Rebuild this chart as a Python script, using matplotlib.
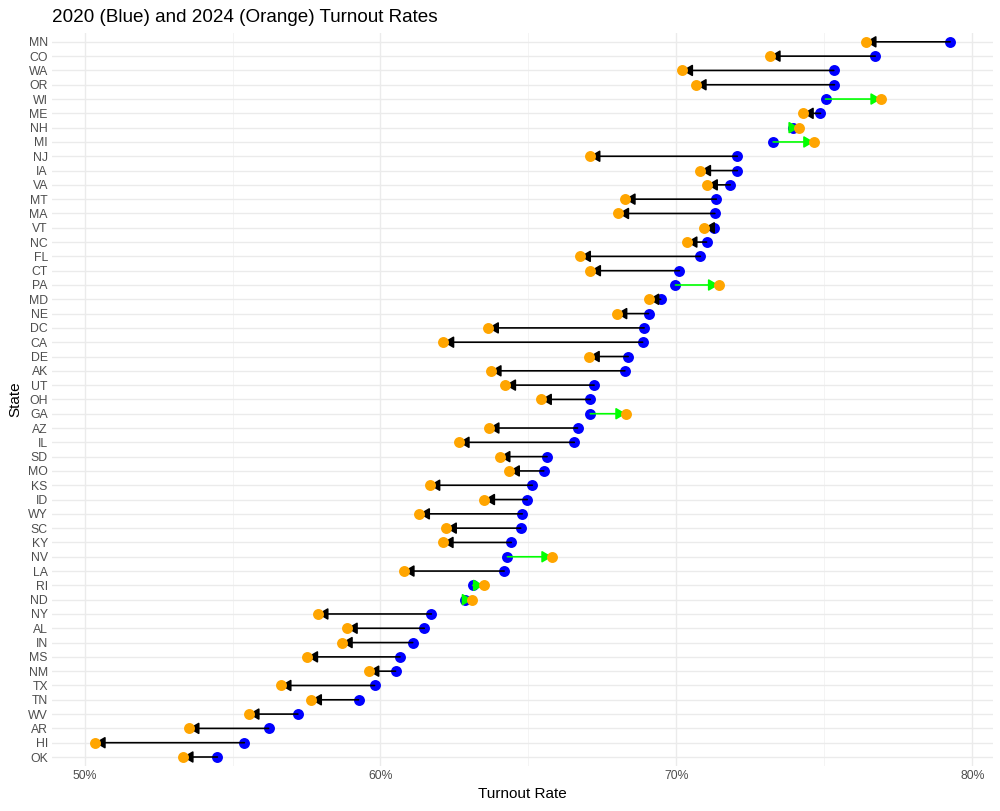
import matplotlib.pyplot as plt
from matplotlib.ticker import FuncFormatter, MultipleLocator

plt.rcParams['font.family'] = ['Liberation Sans', 'DejaVu Sans']

# states, top to bottom
states = ['MN', 'CO', 'WA', 'OR', 'WI', 'ME', 'NH', 'MI', 'NJ', 'IA', 'VA', 'MT', 'MA',
          'VT', 'NC', 'FL', 'CT', 'PA', 'MD', 'NE', 'DC', 'CA', 'DE', 'AK', 'UT', 'OH',
          'GA', 'AZ', 'IL', 'SD', 'MO', 'KS', 'ID', 'WY', 'SC', 'KY', 'NV', 'LA', 'RI',
          'ND', 'NY', 'AL', 'IN', 'MS', 'NM', 'TX', 'TN', 'WV', 'AR', 'HI', 'OK']

# turnout rates (%)
turnout_2020 = [79.25, 76.72, 75.32, 75.34, 75.04, 74.87, 73.94, 73.27, 72.06, 72.06, 71.82,
                71.35, 71.30, 71.26, 71.02, 70.81, 70.10, 69.97, 69.47, 69.06, 68.91, 68.86,
                68.37, 68.26, 67.22, 67.09, 67.09, 66.66, 66.55, 65.63, 65.52, 65.13, 64.96,
                64.79, 64.74, 64.42, 64.29, 64.18, 63.12, 62.85, 61.72, 61.48, 61.09, 60.66,
                60.51, 59.80, 59.26, 57.21, 56.22, 55.40, 54.49]
turnout_2024 = [76.40, 73.16, 70.20, 70.66, 76.92, 74.28, 74.15, 74.65, 67.07, 70.81, 71.04,
                68.26, 68.04, 70.94, 70.35, 66.75, 67.09, 71.43, 69.06, 67.98, 63.64, 62.13,
                67.05, 63.73, 64.22, 65.43, 68.30, 63.66, 62.65, 64.03, 64.35, 61.66, 63.51,
                61.31, 62.22, 62.11, 65.80, 60.79, 63.49, 63.11, 57.88, 58.87, 58.70, 57.53,
                59.60, 56.63, 57.66, 55.55, 53.52, 50.35, 53.32]

fig = plt.figure(figsize=(10, 8.11), dpi=100)
ax = fig.add_axes([0.052, 0.056, 0.941, 0.903])

ypos = list(range(len(states)))

for y, a, b in zip(ypos, turnout_2020, turnout_2024):
    col = '#00FF00' if b > a else 'black'
    ax.annotate('', xy=(b, y), xytext=(a, y),
                arrowprops=dict(arrowstyle='-|>,head_length=0.6,head_width=0.35',
                                color=col, lw=1.2, shrinkA=0, shrinkB=0,
                                mutation_scale=10),
                zorder=4)

ax.scatter(turnout_2020, ypos, s=62, color='#0000FF', zorder=3, linewidths=0)
ax.scatter(turnout_2024, ypos, s=62, color='#FFA500', zorder=5, linewidths=0)

ax.set_yticks(ypos)
ax.set_yticklabels(states)
ax.set_ylim(len(states) - 0.4, -0.6)
ax.set_xlim(48.9, 80.7)

ax.xaxis.set_major_locator(MultipleLocator(10))
ax.xaxis.set_minor_locator(MultipleLocator(5))
ax.xaxis.set_major_formatter(FuncFormatter(lambda v, p: f'{v:.0f}%'))

ax.grid(which='major', color='#EBEBEB', linewidth=1.0)
ax.grid(which='minor', axis='x', color='#F2F2F2', linewidth=0.6)
ax.set_axisbelow(True)
for s in ax.spines.values():
    s.set_visible(False)
ax.tick_params(which='both', length=0, labelsize=8.8, colors='#4D4D4D', pad=3)

ax.set_xlabel('Turnout Rate', fontsize=11, labelpad=4)
ax.set_ylabel('State', fontsize=11, labelpad=4)
ax.set_title('2020 (Blue) and 2024 (Orange) Turnout Rates', fontsize=13.6,
             loc='left', x=0.0, pad=8)

fig.savefig('out.png')
